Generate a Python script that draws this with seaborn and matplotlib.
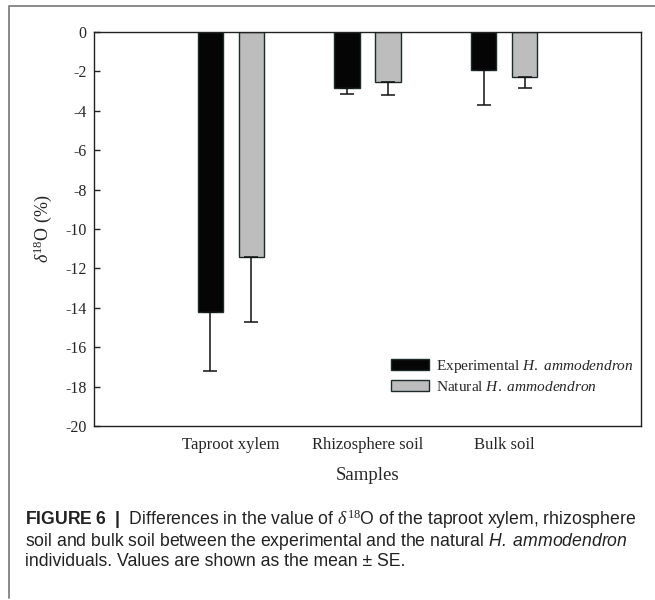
import matplotlib
matplotlib.use("Agg")
import matplotlib.pyplot as plt
import pandas as pd
import seaborn as sns
from matplotlib import font_manager as fm
from matplotlib.lines import Line2D

# data
samples = ["Taproot xylem", "Rhizosphere soil", "Bulk soil"]
groups = ["Experimental", "Natural"]
exp_mean = [-14.2, -2.85, -1.95]
exp_se = [3.0, 0.29, 1.78]
nat_mean = [-11.4, -2.55, -2.3]
nat_se = [3.33, 0.64, 0.53]
yticks = [0, -2, -4, -6, -8, -10, -12, -14, -16, -18, -20]

df = pd.DataFrame({
    "sample": samples * 2,
    "group": [groups[0]] * 3 + [groups[1]] * 3,
    "value": exp_mean + nat_mean,
})
se = {groups[0]: exp_se, groups[1]: nat_se}

names = {f.name for f in fm.fontManager.ttflist}
cap_font = "Liberation Sans Narrow" if "Liberation Sans Narrow" in names else "Liberation Sans"

sns.set_style("white")
plt.rcParams["font.family"] = ["Liberation Serif", "DejaVu Serif"]
plt.rcParams["mathtext.fontset"] = "custom"
plt.rcParams["mathtext.rm"] = "Liberation Serif"
plt.rcParams["mathtext.it"] = "Liberation Serif:italic"
plt.rcParams["mathtext.sf"] = cap_font + ":italic"
plt.rcParams["mathtext.bf"] = cap_font + ":bold"

fig = plt.figure(figsize=(6.55, 6.0), dpi=100)
ax = fig.add_axes([94 / 655, 1 - 426 / 600, (641 - 94) / 655, (426 - 32) / 600])

sns.barplot(
    data=df, x="sample", y="value", hue="group", order=samples, hue_order=groups,
    palette=["#050505", "#bdbdbd"], width=0.6, gap=0.38, errorbar=None,
    edgecolor="#1c2a2a", linewidth=1.0, ax=ax, legend=False,
)

# one-sided (downward) error bars
for cont, g in zip(ax.containers, groups):
    xs = [p.get_x() + p.get_width() / 2 for p in cont.patches]
    ys = [p.get_y() + p.get_height() for p in cont.patches]
    ax.errorbar(xs, ys, yerr=[se[g], [0] * len(xs)], fmt="none",
                ecolor="#111111", elinewidth=1.1, capsize=4.7, capthick=1.1, zorder=1)

ax.set_xlim(-1, 3)
ax.set_ylim(-20, 0)
ax.set_yticks(yticks)
ax.set_yticklabels([str(t) for t in yticks], fontsize=11.5)
ax.tick_params(axis="y", direction="in", length=4, width=1, left=True, color="#222222", pad=5.5)
ax.tick_params(axis="x", length=0, labelsize=12, pad=8)
ax.set_xlabel("Samples", fontsize=13.5, labelpad=10)
ax.set_ylabel(r"$\delta^{18}$O (%)", fontsize=13, labelpad=8)
for s in ax.spines.values():
    s.set_visible(True)
    s.set_color("#222222")
    s.set_linewidth(1.0)

handles = [
    plt.Rectangle((0, 0), 1, 1, facecolor="#050505", edgecolor="#1c2a2a", linewidth=1.0),
    plt.Rectangle((0, 0), 1, 1, facecolor="#bdbdbd", edgecolor="#1c2a2a", linewidth=1.0),
]
labels = [r"Experimental $\mathit{H.\ ammodendron}$", r"Natural $\mathit{H.\ ammodendron}$"]
ax.legend(handles, labels, loc="upper left", bbox_to_anchor=(391 / 655, 1 - 358 / 600),
          bbox_transform=fig.transFigure, frameon=False, fontsize=11.1,
          handlelength=2.45, handleheight=0.75, handletextpad=0.5,
          labelspacing=0.3, borderpad=0, borderaxespad=0)

# outer figure frame (left and top only)
fig.add_artist(Line2D([9 / 655, 9 / 655, 1], [1 - 598 / 600, 1 - 6 / 600, 1 - 6 / 600],
                      color="#8a8a8a", linewidth=1.4, transform=fig.transFigure))

cap_kw = dict(fontsize=12.7, family=[cap_font, "DejaVu Sans"], color="#222222", va="center")
fig.text(25 / 655, 1 - 519 / 600,
         r"$\mathbf{FIGURE\ 6\ \ |}$  Differences in the value of $\delta^{18}$O of the taproot xylem, rhizosphere",
         **cap_kw)
fig.text(25 / 655, 1 - 541 / 600,
         r"soil and bulk soil between the experimental and the natural $\mathsf{H.\ ammodendron}$",
         **cap_kw)
fig.text(25 / 655, 1 - 562 / 600,
         "individuals. Values are shown as the mean ± SE.", **cap_kw)

fig.savefig("out.png", dpi=100)
